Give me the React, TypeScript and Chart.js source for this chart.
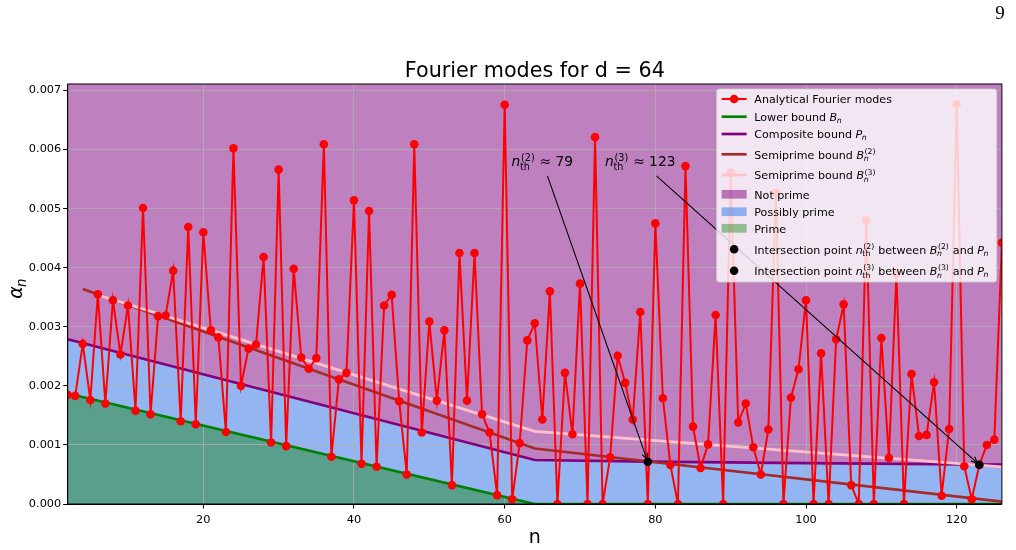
import React, { useEffect, useRef } from "react";
import { Chart, registerables } from "chart.js";

Chart.register(...registerables);

// Analytical Fourier modes α_n, one value per n starting at FIRST_N
const FIRST_N = 2;
const fourierModes = [
  0.00185, 0.00183, 0.00271, 0.00176, 0.00355, 0.0017, 0.00345, 0.00253, 0.00336, 0.00158,
  0.00501, 0.00152, 0.00318, 0.00319, 0.00395, 0.0014, 0.00469, 0.00135, 0.0046, 0.00294,
  0.00282, 0.00122, 0.00602, 0.002, 0.00263, 0.0027, 0.00418, 0.00104, 0.00566, 0.00098,
  0.00398, 0.00248, 0.00229, 0.00247, 0.00609, 0.0008, 0.00211, 0.00222, 0.00514, 0.00068,
  0.00496, 0.00063, 0.00336, 0.00354, 0.00174, 0.0005, 0.00609, 0.00121, 0.00309, 0.00175,
  0.00294, 0.00032, 0.00425, 0.00175, 0.00425, 0.00152, 0.00121, 0.00015, 0.00676, 0.00008,
  0.00103, 0.00277, 0.00306, 0.00143, 0.0036, 0, 0.00222, 0.00118, 0.00373, 0,
  0.00621, 0, 0.00079, 0.00251, 0.00205, 0.00143, 0.00325, 0, 0.00475, 0.00179,
  0.00066, 0, 0.00572, 0.00131, 0.00061, 0.00101, 0.0032, 0, 0.00561, 0.00138,
  0.0017, 0.00096, 0.0005, 0.00126, 0.00527, 0, 0.0018, 0.00228, 0.00345, 0,
  0.00255, 0, 0.00279, 0.00338, 0.00032, 0, 0.0048, 0, 0.00281, 0.00078,
  0.0039, 0, 0.0022, 0.00115, 0.00117, 0.00206, 0.00014, 0.00127, 0.00677, 0.00064,
  0.00008, 0.00066, 0.001, 0.00109, 0.00442,
];

// Bounds, given at their break points in n
const boundN = [2, 64, 79, 100, 126];
const lowerBound = [0.00187, 0, 0, 0, 0];
const compositeBound = [0.00279, 0.000745, 0.000718, 0.000692, 0.000668];

const semi2N = [4, 64, 126];
const semiprime2 = [0.00364, 0.00094, 0.00004];
const semi3N = [6, 64, 126];
const semiprime3 = [0.00354, 0.00123, 0.00063];

// Threshold crossings of the semiprime bounds with P_n
const intersectN = [79, 123];
const intersectVal = [0.000716, 0.000665];
const intersectOrder = ["(2)", "(3)"];
const noteN = [65, 78];
const noteVal = [0.0058, 0.0058];

const xTicks = [20, 40, 60, 80, 100, 120];
const yTicks = [0, 0.001, 0.002, 0.003, 0.004, 0.005, 0.006, 0.007];
const X_MIN = 2;
const X_MAX = 126;
const Y_MIN = 0;
const Y_MAX = 0.00711;

const TITLE = "Fourier modes for d = 64";
const PAGE_NO = "9";

const COLORS = {
  modes: "#ff0000",
  lower: "#008000",
  composite: "#800080",
  semi2: "#a52a2a",
  semi3: "#ffc0cb",
  notPrime: "#bf80bf",
  possiblyPrime: "#93b5f2",
  prime: "#5a9f8c",
  notPrimeA: "rgba(128,0,128,0.5)",
  possiblyPrimeA: "rgba(100,149,237,0.7)",
  primeA: "rgba(0,128,0,0.4)",
};

type Seg = { t: string; it?: boolean; sub?: string; subIt?: boolean; sup?: string };

const FAM = '"DejaVu Sans", sans-serif';
const fnt = (size: number, it?: boolean) => `${it ? "italic " : ""}${size}px ${FAM}`;

function segAdvance(ctx: CanvasRenderingContext2D, s: Seg, size: number) {
  ctx.font = fnt(size, s.it);
  let w = ctx.measureText(s.t).width;
  const small = size * 0.7;
  let extra = 0;
  if (s.sub) {
    ctx.font = fnt(small, s.subIt);
    extra = Math.max(extra, ctx.measureText(s.sub).width);
  }
  if (s.sup) {
    ctx.font = fnt(small, false);
    extra = Math.max(extra, ctx.measureText(s.sup).width + (s.it ? size * 0.05 : 0));
  }
  if (extra) w += extra + size * 0.04;
  return w;
}

function richWidth(ctx: CanvasRenderingContext2D, segs: Seg[], size: number) {
  let w = 0;
  for (const s of segs) w += segAdvance(ctx, s, size);
  return w;
}

function drawRich(
  ctx: CanvasRenderingContext2D,
  segs: Seg[],
  x: number,
  baseline: number,
  size: number,
  align: "left" | "center",
  color = "#000"
) {
  let cx = align === "center" ? x - richWidth(ctx, segs, size) / 2 : x;
  ctx.textAlign = "left";
  ctx.textBaseline = "alphabetic";
  ctx.fillStyle = color;
  for (const s of segs) {
    ctx.font = fnt(size, s.it);
    ctx.fillText(s.t, cx, baseline);
    const w = ctx.measureText(s.t).width;
    const small = size * 0.7;
    const sx = cx + w;
    if (s.sup) {
      ctx.font = fnt(small, false);
      ctx.fillText(s.sup, sx + (s.it ? size * 0.05 : 0), baseline - size * 0.42);
    }
    if (s.sub) {
      ctx.font = fnt(small, s.subIt);
      ctx.fillText(s.sub, sx - (s.it ? size * 0.03 : 0), baseline + size * (s.sup ? 0.27 : 0.2));
    }
    cx += segAdvance(ctx, s, size);
  }
}

const bSym = (k?: string): Seg => ({ t: "B", it: true, sub: "n", subIt: true, sup: k });
const pSym: Seg = { t: "P", it: true, sub: "n", subIt: true };
const nth = (k: string): Seg => ({ t: "n", it: true, sub: "th", sup: k });

type Handle = { kind: "markerLine" | "line" | "patch" | "dot"; color: string; width?: number };

const legendItems: { handle: Handle; label: Seg[] }[] = [
  { handle: { kind: "markerLine", color: COLORS.modes, width: 2 }, label: [{ t: "Analytical Fourier modes" }] },
  { handle: { kind: "line", color: COLORS.lower, width: 2.7 }, label: [{ t: "Lower bound " }, bSym()] },
  { handle: { kind: "line", color: COLORS.composite, width: 2.7 }, label: [{ t: "Composite bound " }, pSym] },
  { handle: { kind: "line", color: COLORS.semi2, width: 2.7 }, label: [{ t: "Semiprime bound " }, bSym("(2)")] },
  { handle: { kind: "line", color: COLORS.semi3, width: 2.7 }, label: [{ t: "Semiprime bound " }, bSym("(3)")] },
  { handle: { kind: "patch", color: COLORS.notPrimeA }, label: [{ t: "Not prime" }] },
  { handle: { kind: "patch", color: COLORS.possiblyPrimeA }, label: [{ t: "Possibly prime" }] },
  { handle: { kind: "patch", color: COLORS.primeA }, label: [{ t: "Prime" }] },
  ...intersectOrder.map((k) => ({
    handle: { kind: "dot" as const, color: "#000" },
    label: [{ t: "Intersection point " }, nth(k), { t: " between " }, bSym(k), { t: " and " }, pSym],
  })),
];
const legendRowOffsets = [10, 27.7, 45, 65.3, 86, 105.3, 122.7, 139.3, 160.3, 181.7];

const LEGEND_SIZE = 11.1;
const NOTE_SIZE = 13.8;

const decor = {
  id: "decor",
  afterDatasetsDraw(chart: any) {
    const { ctx, chartArea: a, scales } = chart;
    const xs = scales.x;
    const ys = scales.y;
    ctx.save();
    // axes frame
    ctx.strokeStyle = "#000";
    ctx.lineWidth = 1;
    ctx.strokeRect(a.left, a.top, a.right - a.left, a.bottom - a.top);

    // threshold notes with arrows
    for (let i = 0; i < intersectN.length; i++) {
      const cx = xs.getPixelForValue(noteN[i]);
      const cy = ys.getPixelForValue(noteVal[i]);
      const tx = xs.getPixelForValue(intersectN[i]);
      const ty = ys.getPixelForValue(intersectVal[i]);
      drawRich(ctx, [nth(intersectOrder[i]), { t: " \u2248 " + intersectN[i] }], cx, cy + NOTE_SIZE * 0.36, NOTE_SIZE, "center");
      const t0 = 14.5 / (ty - cy);
      const sx = cx + t0 * (tx - cx);
      const sy = cy + 14.5;
      const len = Math.hypot(tx - sx, ty - sy);
      const ux = (tx - sx) / len;
      const uy = (ty - sy) / len;
      const ex = tx - ux * 2.8;
      const ey = ty - uy * 2.8;
      ctx.strokeStyle = "#000";
      ctx.lineWidth = 1.1;
      ctx.beginPath();
      ctx.moveTo(sx, sy);
      ctx.lineTo(ex, ey);
      ctx.stroke();
      const hl = 5.8;
      const hw = 2.9;
      ctx.beginPath();
      ctx.moveTo(ex - ux * hl - uy * hw, ey - uy * hl + ux * hw);
      ctx.lineTo(ex, ey);
      ctx.lineTo(ex - ux * hl + uy * hw, ey - uy * hl - ux * hw);
      ctx.stroke();
    }
    ctx.restore();
  },
  afterDraw(chart: any) {
    const { ctx, chartArea: a } = chart;
    ctx.save();

    // legend
    let maxW = 0;
    for (const it of legendItems) maxW = Math.max(maxW, richWidth(ctx, it.label, LEGEND_SIZE));
    const boxW = 37.7 + maxW + 7.4;
    const boxH = 193;
    const right = a.right - 5.2;
    const top = a.top + 5;
    const left = right - boxW;
    const r = 2.8;
    ctx.beginPath();
    ctx.moveTo(left + r, top);
    ctx.lineTo(right - r, top);
    ctx.quadraticCurveTo(right, top, right, top + r);
    ctx.lineTo(right, top + boxH - r);
    ctx.quadraticCurveTo(right, top + boxH, right - r, top + boxH);
    ctx.lineTo(left + r, top + boxH);
    ctx.quadraticCurveTo(left, top + boxH, left, top + boxH - r);
    ctx.lineTo(left, top + r);
    ctx.quadraticCurveTo(left, top, left + r, top);
    ctx.closePath();
    ctx.fillStyle = "rgba(255,255,255,0.8)";
    ctx.fill();
    ctx.strokeStyle = "rgba(204,204,204,0.8)";
    ctx.lineWidth = 1;
    ctx.stroke();

    legendItems.forEach((it, i) => {
      const cy = top + legendRowOffsets[i];
      const hx0 = left + 5;
      const hx1 = left + 30;
      const h = it.handle;
      if (h.kind === "line" || h.kind === "markerLine") {
        ctx.strokeStyle = h.color;
        ctx.lineWidth = h.width || 2;
        ctx.beginPath();
        ctx.moveTo(hx0, cy);
        ctx.lineTo(hx1, cy);
        ctx.stroke();
      }
      if (h.kind === "markerLine" || h.kind === "dot") {
        ctx.fillStyle = h.color;
        ctx.beginPath();
        ctx.arc((hx0 + hx1) / 2, cy, 4.3, 0, Math.PI * 2);
        ctx.fill();
      }
      if (h.kind === "patch") {
        ctx.fillStyle = h.color;
        ctx.fillRect(hx0, cy - 4.35, hx1 - hx0, 8.7);
      }
      drawRich(ctx, it.label, left + 37.7, cy + 4.2, LEGEND_SIZE, "left");
    });

    // title and axis labels
    const midX = (a.left + a.right) / 2;
    ctx.fillStyle = "#000";
    ctx.font = `20.7px ${FAM}`;
    ctx.textAlign = "center";
    ctx.textBaseline = "alphabetic";
    ctx.fillText(TITLE, midX, 77);

    ctx.font = `19px ${FAM}`;
    ctx.fillText("n", midX, 543);

    ctx.translate(22, (a.top + a.bottom) / 2 - 6);
    ctx.rotate(-Math.PI / 2);
    drawRich(ctx, [{ t: "\u03b1", it: true, sub: "n", subIt: true }], 0, 0, 19, "center");
    ctx.setTransform(1, 0, 0, 1, 0, 0);

    // page number
    ctx.font = '19px "Liberation Serif", serif';
    ctx.textAlign = "center";
    ctx.fillStyle = "#000";
    ctx.fillText(PAGE_NO, 1000, 19);
    ctx.restore();
  },
};

export default function App() {
  const ref = useRef<HTMLCanvasElement | null>(null);

  useEffect(() => {
    const canvas = ref.current;
    if (!canvas) return;

    const toPts = (xsArr: number[], ysArr: number[]) => xsArr.map((x, i) => ({ x, y: ysArr[i] }));
    const modePts = fourierModes.map((v, i) => ({ x: FIRST_N + i, y: v }));

    const tickFont = { family: "DejaVu Sans", size: 11.3 };
    const gridCommon = {
      color: "#b0b0b0",
      lineWidth: 0.8,
      tickColor: "#000",
      tickLength: 4.5,
      tickWidth: 1,
    };

    const chart = new Chart(canvas, {
      type: "line",
      data: {
        datasets: [
          {
            label: "intersections",
            data: toPts(intersectN, intersectVal),
            showLine: false,
            pointRadius: 4.3,
            pointBackgroundColor: "#000",
            pointBorderWidth: 0,
            borderColor: "#000",
            clip: 0,
          },
          {
            label: "modes",
            data: modePts,
            borderColor: COLORS.modes,
            borderWidth: 2,
            pointRadius: 4.3,
            pointBackgroundColor: COLORS.modes,
            pointBorderWidth: 0,
            fill: false,
            clip: 0,
          },
          {
            label: "semiprime3",
            data: toPts(semi3N, semiprime3),
            borderColor: COLORS.semi3,
            borderWidth: 2.7,
            pointRadius: 0,
            fill: false,
            clip: 0,
          },
          {
            label: "semiprime2",
            data: toPts(semi2N, semiprime2),
            borderColor: COLORS.semi2,
            borderWidth: 2.7,
            pointRadius: 0,
            fill: false,
            clip: 0,
          },
          {
            label: "composite",
            data: toPts(boundN, compositeBound),
            borderColor: COLORS.composite,
            borderWidth: 2.7,
            pointRadius: 0,
            fill: "end",
            backgroundColor: COLORS.notPrime,
            clip: 0,
          },
          {
            label: "lower",
            data: toPts(boundN, lowerBound),
            borderColor: COLORS.lower,
            borderWidth: 2.7,
            pointRadius: 0,
            fill: "origin",
            backgroundColor: COLORS.prime,
            clip: 0,
          },
          {
            label: "possiblyPrime",
            data: toPts(boundN, compositeBound),
            borderColor: "rgba(0,0,0,0)",
            borderWidth: 0,
            pointRadius: 0,
            fill: 5,
            backgroundColor: COLORS.possiblyPrime,
            clip: 0,
          },
        ],
      },
      options: {
        animation: false,
        responsive: false,
        devicePixelRatio: 1,
        events: [],
        layout: { padding: { left: 0, right: 14.1, top: 84, bottom: 0 } },
        elements: { line: { tension: 0 } },
        plugins: {
          legend: { display: false },
          tooltip: { enabled: false },
          title: { display: false },
          filler: { drawTime: "beforeDraw", propagate: false },
        },
        scales: {
          x: {
            type: "linear",
            min: X_MIN,
            max: X_MAX,
            afterBuildTicks: (s: any) => {
              s.ticks = xTicks.map((v) => ({ value: v }));
            },
            afterFit: (s: any) => {
              s.height = 46;
            },
            grid: gridCommon,
            border: { display: true, color: "#000", width: 1 },
            ticks: {
              font: tickFont,
              color: "#000",
              padding: 4.5,
              maxRotation: 0,
              autoSkip: false,
              callback: (v: any) => String(v),
            },
          },
          y: {
            type: "linear",
            min: Y_MIN,
            max: Y_MAX,
            afterBuildTicks: (s: any) => {
              s.ticks = yTicks.map((v) => ({ value: v }));
            },
            afterFit: (s: any) => {
              s.width = 67.7;
            },
            grid: gridCommon,
            border: { display: true, color: "#000", width: 1 },
            ticks: {
              font: tickFont,
              color: "#000",
              padding: 2,
              autoSkip: false,
              callback: (v: any) => Number(v).toFixed(3),
            },
          },
        },
      },
      plugins: [decor],
    } as any);

    return () => chart.destroy();
  }, []);

  return (
    <div style={{ position: "fixed", left: 0, top: 0, width: 1016, height: 550, background: "#fff" }}>
      <canvas ref={ref} width={1016} height={550} style={{ display: "block", width: 1016, height: 550 }} />
    </div>
  );
}
